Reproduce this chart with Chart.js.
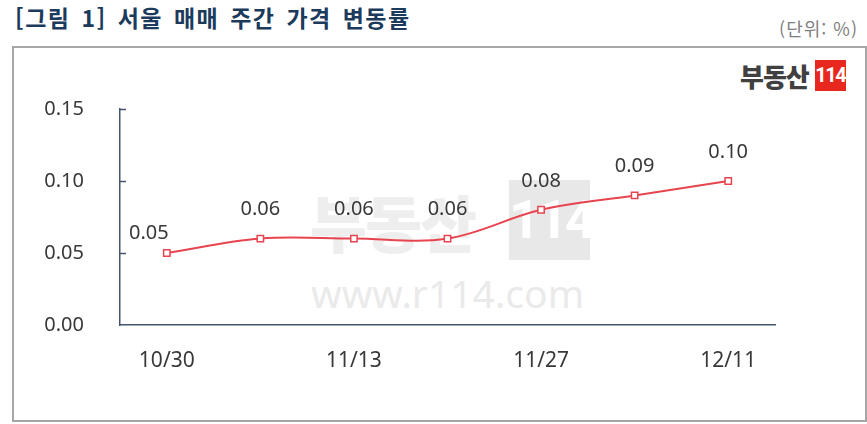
<!DOCTYPE html>
<html lang="ko">
<head>
<meta charset="utf-8">
<title>서울 매매 주간 가격 변동률</title>
<script src="https://cdn.jsdelivr.net/npm/chart.js@4.4.1/dist/chart.umd.min.js"></script>
<style>
  html, body { margin: 0; padding: 0; background: #fff; }
  body { width: 867px; height: 424px; position: relative; overflow: hidden; font-family: 'Noto Sans CJK KR', 'Noto Sans', sans-serif; }
  .title { position: absolute; left: 15px; top: 0; font-size: 23px; font-weight: 700; color: #1b3a5c; letter-spacing: 1.5px; word-spacing: 3px; }
  .unit { position: absolute; right: 9px; top: 15px; font-size: 18px; color: #7f7f7f; letter-spacing: 1px; }
  .frame { position: absolute; left: 12px; top: 46px; width: 851px; height: 372px; border: 2px solid #a6a6a6; }
  .logo { position: absolute; left: 740px; top: 57px; display: flex; align-items: center; }
  .logo .kr { font-size: 26px; font-weight: 900; color: #404040; letter-spacing: -1px; margin-right: 6px; }
  .logo .num { background: #e8281e; color: #fff; font-size: 20px; font-weight: 700; width: 31px; height: 31px; line-height: 31px; text-align: center; font-family: 'Roboto', sans-serif; letter-spacing: -1.5px; }
  .wm { position: absolute; color: #eeeeee; }
  .wm-kr { left: 310px; top: 176px; font-size: 62px; font-weight: 900; letter-spacing: -2px; }
  .wm-box { left: 509px; top: 180px; width: 81px; height: 80px; background: #e8e8e8; color: #fff; font-size: 54px; font-weight: 700; text-align: center; line-height: 80px; font-family: 'Roboto', sans-serif; letter-spacing: -3px; }
  .wm-url { left: 311px; top: 266px; font-size: 39px; font-family: 'Noto Sans', sans-serif; color: #eaeaea; }
  canvas { position: absolute; left: 0; top: 0; }
</style>
</head>
<body>
<div class="title">[그림 1] 서울 매매 주간 가격 변동률</div>
<div class="unit">(단위: %)</div>
<div class="frame"></div>
<div class="logo"><span class="kr">부동산</span><span class="num">114</span></div>
<div class="wm wm-kr">부동산</div>
<div class="wm wm-box">114</div>
<div class="wm wm-url">www.r114.com</div>
<canvas id="lineChart" width="867" height="424"></canvas>
<script>
// chart data
const weeks = ['10/30', '11/6', '11/13', '11/20', '11/27', '12/4', '12/11'];
const changeRate = [0.05, 0.06, 0.06, 0.06, 0.08, 0.09, 0.10];
const yTicks = [0, 0.05, 0.10, 0.15];

const axisColor = '#44546a';
const textColor = '#383838';
const lineColor = '#e8444f';
const fontFamily = "'Noto Sans', sans-serif";

// small tick marks on the inner side of the y axis
const innerTicks = {
  id: 'innerTicks',
  afterDraw(chart) {
    const ctx = chart.ctx, y = chart.scales.y, x0 = chart.chartArea.left;
    ctx.save();
    ctx.strokeStyle = axisColor;
    ctx.lineWidth = 1.5;
    yTicks.slice(1).forEach(v => {
      const py = Math.round(y.getPixelForValue(v)) + 0.5;
      ctx.beginPath();
      ctx.moveTo(x0, py);
      ctx.lineTo(x0 + 6, py);
      ctx.stroke();
    });
    ctx.restore();
  }
};

// value labels above each point
const valueLabels = {
  id: 'valueLabels',
  afterDatasetsDraw(chart) {
    const ctx = chart.ctx;
    const meta = chart.getDatasetMeta(0);
    ctx.save();
    ctx.font = `20px ${fontFamily}`;
    ctx.fillStyle = textColor;
    ctx.textAlign = 'center';
    ctx.textBaseline = 'middle';
    meta.data.forEach((pt, i) => {
      const dx = i === 0 ? -18 : 0;
      const dy = i === 0 ? -20 : -29;
      ctx.fillText(changeRate[i].toFixed(2), pt.x + dx, pt.y + dy);
    });
    ctx.restore();
  }
};

new Chart(document.getElementById('lineChart').getContext('2d'), {
  type: 'line',
  data: {
    labels: weeks,
    datasets: [{
      data: changeRate,
      borderColor: lineColor,
      borderWidth: 2,
      tension: 0.35,
      pointStyle: 'rect',
      pointRadius: 4.5,
      pointBackgroundColor: '#ffffff',
      pointBorderColor: lineColor,
      pointBorderWidth: 1.5
    }]
  },
  options: {
    responsive: false,
    animation: false,
    layout: { padding: { left: 0, right: 92, top: 109, bottom: 0 } },
    plugins: { legend: { display: false }, tooltip: { enabled: false } },
    scales: {
      x: {
        offset: true,
        afterFit: s => { s.height = 99; },
        grid: { display: false },
        border: { display: true, color: axisColor, width: 1.5 },
        ticks: {
          autoSkip: false,
          maxRotation: 0,
          padding: 15,
          color: textColor,
          font: { family: fontFamily, size: 21 },
          callback: (v, i) => (i % 2 === 0 ? weeks[i] : '')
        }
      },
      y: {
        min: 0,
        max: 0.15,
        afterFit: s => { s.width = 120; },
        afterBuildTicks: s => { s.ticks = yTicks.map(v => ({ value: v })); },
        grid: { display: false },
        border: { display: true, color: axisColor, width: 1.5 },
        ticks: {
          padding: 28,
          color: textColor,
          font: { family: fontFamily, size: 20 },
          callback: v => v.toFixed(2)
        }
      }
    }
  },
  plugins: [innerTicks, valueLabels]
});
</script>
</body>
</html>
